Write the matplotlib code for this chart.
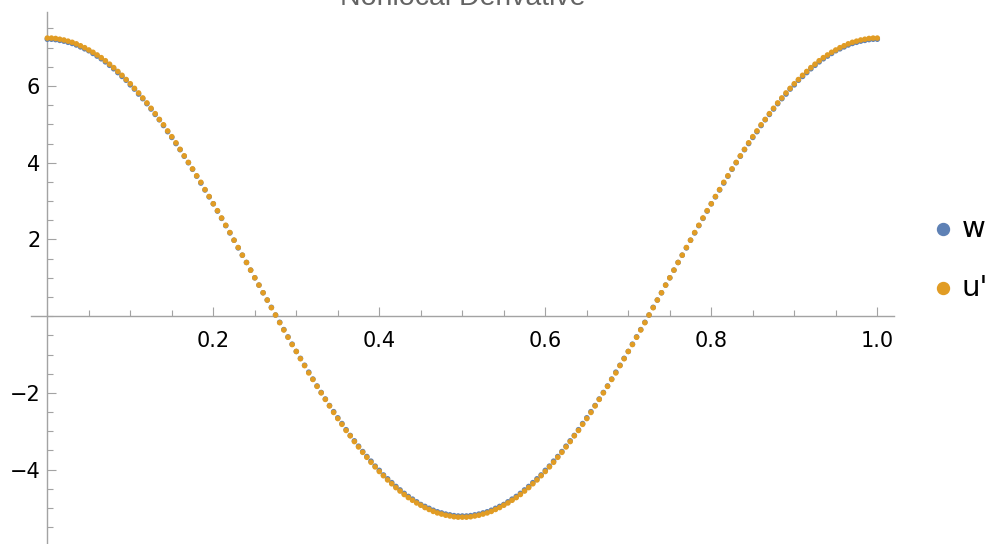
import matplotlib
matplotlib.use('Agg')
import matplotlib.pyplot as plt
from matplotlib.lines import Line2D
from matplotlib.ticker import FixedLocator, MultipleLocator, FuncFormatter

plt.rcParams['font.family'] = ['DejaVu Sans']

# ---------------- data ----------------
x_vals = [
    0.000, 0.005, 0.010, 0.015, 0.020, 0.025, 0.030, 0.035, 0.040, 0.045,
    0.050, 0.055, 0.060, 0.065, 0.070, 0.075, 0.080, 0.085, 0.090, 0.095,
    0.100, 0.105, 0.110, 0.115, 0.120, 0.125, 0.130, 0.135, 0.140, 0.145,
    0.150, 0.155, 0.160, 0.165, 0.170, 0.175, 0.180, 0.185, 0.190, 0.195,
    0.200, 0.205, 0.210, 0.215, 0.220, 0.225, 0.230, 0.235, 0.240, 0.245,
    0.250, 0.255, 0.260, 0.265, 0.270, 0.275, 0.280, 0.285, 0.290, 0.295,
    0.300, 0.305, 0.310, 0.315, 0.320, 0.325, 0.330, 0.335, 0.340, 0.345,
    0.350, 0.355, 0.360, 0.365, 0.370, 0.375, 0.380, 0.385, 0.390, 0.395,
    0.400, 0.405, 0.410, 0.415, 0.420, 0.425, 0.430, 0.435, 0.440, 0.445,
    0.450, 0.455, 0.460, 0.465, 0.470, 0.475, 0.480, 0.485, 0.490, 0.495,
    0.500, 0.505, 0.510, 0.515, 0.520, 0.525, 0.530, 0.535, 0.540, 0.545,
    0.550, 0.555, 0.560, 0.565, 0.570, 0.575, 0.580, 0.585, 0.590, 0.595,
    0.600, 0.605, 0.610, 0.615, 0.620, 0.625, 0.630, 0.635, 0.640, 0.645,
    0.650, 0.655, 0.660, 0.665, 0.670, 0.675, 0.680, 0.685, 0.690, 0.695,
    0.700, 0.705, 0.710, 0.715, 0.720, 0.725, 0.730, 0.735, 0.740, 0.745,
    0.750, 0.755, 0.760, 0.765, 0.770, 0.775, 0.780, 0.785, 0.790, 0.795,
    0.800, 0.805, 0.810, 0.815, 0.820, 0.825, 0.830, 0.835, 0.840, 0.845,
    0.850, 0.855, 0.860, 0.865, 0.870, 0.875, 0.880, 0.885, 0.890, 0.895,
    0.900, 0.905, 0.910, 0.915, 0.920, 0.925, 0.930, 0.935, 0.940, 0.945,
    0.950, 0.955, 0.960, 0.965, 0.970, 0.975, 0.980, 0.985, 0.990, 0.995,
    1.000,
]

w_vals = [
    7.22, 7.22, 7.21, 7.19, 7.17, 7.14, 7.11, 7.07, 7.02, 6.97,
    6.92, 6.85, 6.78, 6.71, 6.63, 6.54, 6.45, 6.35, 6.25, 6.15,
    6.03, 5.92, 5.79, 5.67, 5.54, 5.40, 5.26, 5.12, 4.97, 4.81,
    4.66, 4.50, 4.34, 4.17, 4.00, 3.83, 3.65, 3.47, 3.29, 3.11,
    2.93, 2.74, 2.55, 2.36, 2.17, 1.98, 1.78, 1.59, 1.40, 1.20,
    1.00, 0.81, 0.61, 0.42, 0.23, 0.03, -0.16, -0.35, -0.54, -0.73,
    -0.92, -1.10, -1.28, -1.46, -1.64, -1.82, -1.99, -2.16, -2.33, -2.49,
    -2.65, -2.80, -2.96, -3.11, -3.25, -3.39, -3.53, -3.66, -3.78, -3.91,
    -4.02, -4.14, -4.24, -4.34, -4.44, -4.53, -4.62, -4.70, -4.77, -4.84,
    -4.91, -4.96, -5.01, -5.06, -5.10, -5.13, -5.16, -5.18, -5.20, -5.21,
    -5.21,
    -5.21, -5.20, -5.18, -5.16, -5.13, -5.10, -5.06, -5.01, -4.96, -4.91,
    -4.84, -4.77, -4.70, -4.62, -4.53, -4.44, -4.34, -4.24, -4.14, -4.02,
    -3.91, -3.78, -3.66, -3.53, -3.39, -3.25, -3.11, -2.96, -2.80, -2.65,
    -2.49, -2.33, -2.16, -1.99, -1.82, -1.64, -1.46, -1.28, -1.10, -0.92,
    -0.73, -0.54, -0.35, -0.16, 0.03, 0.23, 0.42, 0.61, 0.81, 1.00,
    1.20, 1.40, 1.59, 1.78, 1.98, 2.17, 2.36, 2.55, 2.74, 2.93,
    3.11, 3.29, 3.47, 3.65, 3.83, 4.00, 4.17, 4.34, 4.50, 4.66,
    4.81, 4.97, 5.12, 5.26, 5.40, 5.54, 5.67, 5.79, 5.92, 6.03,
    6.15, 6.25, 6.35, 6.45, 6.54, 6.63, 6.71, 6.78, 6.85, 6.92,
    6.97, 7.02, 7.07, 7.11, 7.14, 7.17, 7.19, 7.21, 7.22, 7.22,
]

u_prime_vals = [
    7.25, 7.25, 7.24, 7.22, 7.20, 7.17, 7.14, 7.10, 7.05, 7.00,
    6.94, 6.88, 6.81, 6.74, 6.66, 6.57, 6.48, 6.38, 6.28, 6.17,
    6.06, 5.94, 5.82, 5.69, 5.56, 5.42, 5.28, 5.13, 4.99, 4.83,
    4.68, 4.52, 4.35, 4.18, 4.01, 3.84, 3.66, 3.49, 3.30, 3.12,
    2.93, 2.75, 2.56, 2.37, 2.18, 1.98, 1.79, 1.59, 1.40, 1.20,
    1.00, 0.81, 0.61, 0.42, 0.22, 0.03, -0.17, -0.36, -0.55, -0.74,
    -0.92, -1.11, -1.29, -1.48, -1.65, -1.83, -2.00, -2.17, -2.34, -2.51,
    -2.67, -2.82, -2.98, -3.12, -3.27, -3.41, -3.55, -3.68, -3.81, -3.93,
    -4.05, -4.16, -4.27, -4.37, -4.47, -4.56, -4.65, -4.73, -4.80, -4.87,
    -4.93, -4.99, -5.04, -5.09, -5.13, -5.16, -5.19, -5.21, -5.23, -5.24,
    -5.24,
    -5.24, -5.23, -5.21, -5.19, -5.16, -5.13, -5.09, -5.04, -4.99, -4.93,
    -4.87, -4.80, -4.73, -4.65, -4.56, -4.47, -4.37, -4.27, -4.16, -4.05,
    -3.93, -3.81, -3.68, -3.55, -3.41, -3.27, -3.12, -2.98, -2.82, -2.67,
    -2.51, -2.34, -2.17, -2.00, -1.83, -1.65, -1.48, -1.29, -1.11, -0.92,
    -0.74, -0.55, -0.36, -0.17, 0.03, 0.22, 0.42, 0.61, 0.81, 1.00,
    1.20, 1.40, 1.59, 1.79, 1.98, 2.18, 2.37, 2.56, 2.75, 2.93,
    3.12, 3.30, 3.49, 3.66, 3.84, 4.01, 4.18, 4.35, 4.52, 4.68,
    4.83, 4.99, 5.13, 5.28, 5.42, 5.56, 5.69, 5.82, 5.94, 6.06,
    6.17, 6.28, 6.38, 6.48, 6.57, 6.66, 6.74, 6.81, 6.88, 6.94,
    7.00, 7.05, 7.10, 7.14, 7.17, 7.20, 7.22, 7.24, 7.25, 7.25,
]

series_labels = ["w", "u'"]
series_colors = ["#5e81b5", "#e19c24"]
title_text = "Nonlocal Derivative"
x_major_ticks = [0.2, 0.4, 0.6, 0.8, 1.0]
y_major_ticks = [-4, -2, 2, 4, 6]

# ---------------- figure ----------------
W, H = 995, 544
fig = plt.figure(figsize=(W / 100, H / 100), dpi=100)
ax_left, ax_right, ax_top = 30.7, 894.3, 12.0
ax = fig.add_axes([ax_left / W, 0.0, (ax_right - ax_left) / W, (H - ax_top) / H])
ax.set_xlim(-0.02, 1.0205)
ax.set_ylim(-5.94, 7.93)
ax.patch.set_alpha(0)

ax.scatter(x_vals, w_vals, s=16, color=series_colors[0], edgecolors='none', zorder=3)
ax.scatter(x_vals, u_prime_vals, s=16, color=series_colors[1], edgecolors='none', zorder=4)

axis_color = '#a3a3a3'
for side in ['top', 'right']:
    ax.spines[side].set_visible(False)
ax.spines['left'].set_position(('data', 0))
ax.spines['bottom'].set_position(('data', 0))
for side in ['left', 'bottom']:
    ax.spines[side].set_color(axis_color)
    ax.spines[side].set_linewidth(1.0)

ax.xaxis.set_major_locator(FixedLocator(x_major_ticks))
ax.xaxis.set_minor_locator(MultipleLocator(0.05))
ax.yaxis.set_major_locator(FixedLocator(y_major_ticks))
ax.yaxis.set_minor_locator(MultipleLocator(0.5))

fmt_x = FuncFormatter(lambda v, p: f"{v:.1f}")
fmt_y = FuncFormatter(lambda v, p: f"{int(round(v))}".replace('-', '\u2212'))
ax.xaxis.set_major_formatter(fmt_x)
ax.yaxis.set_major_formatter(fmt_y)

ax.tick_params(axis='both', which='both', direction='in', color=axis_color,
               width=0.8, labelcolor='black', labelsize=15)
ax.tick_params(axis='both', which='major', length=6.5)
ax.tick_params(axis='both', which='minor', length=4.0)
ax.tick_params(axis='x', which='major', pad=10.4)
ax.tick_params(axis='y', which='major', pad=5.0)

# title (partly cut off at the top, as in the reference)
fig.text((ax_left + ax_right) / 2 / W, 1 - 4.7 / H, title_text, ha='center',
         va='baseline', fontsize=20.5, color='#646464', family='Liberation Sans')

# legend on the right
leg_x_dot = 943
leg_x_text = 962
leg_y = [229, 288]
for lab, col, yy in zip(series_labels, series_colors, leg_y):
    fig.add_artist(Line2D([leg_x_dot / W], [1 - yy / H], transform=fig.transFigure,
                          marker='o', markersize=8.6, color=col, linestyle='none'))
    fig.text(leg_x_text / W, 1 - yy / H, lab, ha='left', va='center',
             fontsize=21, color='black')

fig.savefig('out.png', dpi=100)
